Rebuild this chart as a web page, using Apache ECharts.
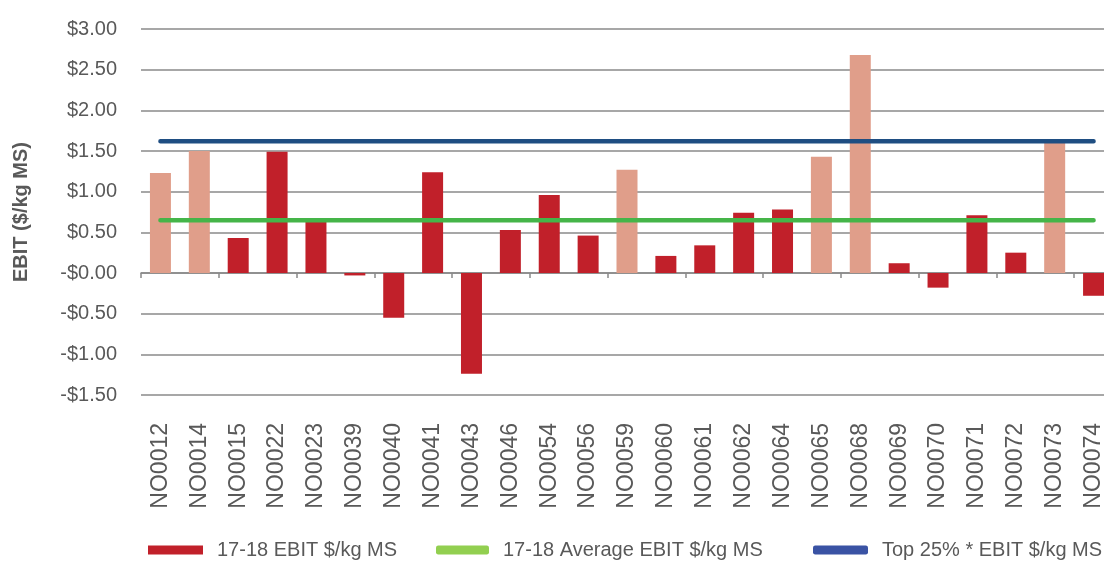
<!DOCTYPE html>
<html>
<head>
<meta charset="utf-8">
<style>
  html, body { margin: 0; padding: 0; background: #fff; }
  #chart { width: 1104px; height: 561px; }
</style>
<script src="https://cdn.jsdelivr.net/npm/echarts@6/dist/echarts.min.js"></script>
</head>
<body>
<div id="chart"></div>
<script>
const farms = ["NO0012", "NO0014", "NO0015", "NO0022", "NO0023", "NO0039", "NO0040", "NO0041", "NO0043", "NO0046",
    "NO0054", "NO0056", "NO0059", "NO0060", "NO0061", "NO0062", "NO0064", "NO0065", "NO0068", "NO0069",
    "NO0070", "NO0071", "NO0072", "NO0073", "NO0074"];
const ebit = [1.23, 1.50, 0.43, 1.49, 0.64, -0.03, -0.55, 1.24, -1.24, 0.53,
    0.96, 0.46, 1.27, 0.21, 0.34, 0.74, 0.78, 1.43, 2.68, 0.12,
    -0.18, 0.71, 0.25, 1.60, -0.28];
const topFarms = ["NO0012", "NO0014", "NO0059", "NO0065", "NO0068", "NO0073"];
const averageEbit = [0.65, 0.65, 0.65, 0.65, 0.65, 0.65, 0.65, 0.65, 0.65, 0.65,
    0.65, 0.65, 0.65, 0.65, 0.65, 0.65, 0.65, 0.65, 0.65, 0.65,
    0.65, 0.65, 0.65, 0.65, 0.65];
const top25Ebit = [1.62, 1.62, 1.62, 1.62, 1.62, 1.62, 1.62, 1.62, 1.62, 1.62,
    1.62, 1.62, 1.62, 1.62, 1.62, 1.62, 1.62, 1.62, 1.62, 1.62,
    1.62, 1.62, 1.62, 1.62, 1.62];
const seriesNames = ["17-18 EBIT $/kg MS", "17-18 Average EBIT $/kg MS", "Top 25% * EBIT $/kg MS"];

(() => {
    const font = "'Liberation Sans', Arial, sans-serif";
    const textColor = "#595959";
    const darkRed = "#C1202A";
    const lightRed = "#E09E8A";

    const chart = echarts.init(document.getElementById("chart"), null, { renderer: "canvas" });

    const barData = ebit.map((value, i) => ({
        value,
        itemStyle: { color: topFarms.includes(farms[i]) ? lightRed : darkRed }
    }));

    const legendText = {
        color: textColor,
        fontFamily: font,
        fontSize: 20,
        padding: [0, 0, 0, 9]
    };

    const option = {
        animation: false,
        grid: {
            left: 141,
            top: 29,
            width: 972,
            height: 366,
            outerBoundsMode: "none"
        },
        legend: [
            {
                left: 148, top: 540, padding: 0, itemWidth: 55, itemHeight: 9,
                data: [{ name: seriesNames[0], icon: "rect", itemStyle: { color: darkRed } }],
                textStyle: legendText
            },
            {
                left: 436, top: 540, padding: 0, itemWidth: 53, itemHeight: 9,
                data: [{ name: seriesNames[1], icon: "roundRect", itemStyle: { color: "#92CF50" } }],
                textStyle: legendText
            },
            {
                left: 813, top: 540, padding: 0, itemWidth: 55, itemHeight: 9,
                data: [{ name: seriesNames[2], icon: "roundRect", itemStyle: { color: "#3A53A4" } }],
                textStyle: legendText
            }
        ],
        xAxis: [
            {
                type: "category",
                data: farms,
                position: "bottom",
                axisLine: { show: false, onZero: false },
                axisTick: { show: false },
                axisLabel: {
                    rotate: 90,
                    margin: 28,
                    color: textColor,
                    fontFamily: font,
                    fontSize: 23,
                    interval: 0
                }
            },
            {
                type: "category",
                data: farms,
                position: "bottom",
                axisLine: { show: true, onZero: true, lineStyle: { color: "#898989", width: 1.5 } },
                axisTick: { show: true, length: 5, lineStyle: { color: "#898989", width: 1.5 } },
                axisLabel: { show: false }
            }
        ],
        yAxis: {
            type: "value",
            min: -1.5,
            max: 3,
            interval: 0.5,
            name: "EBIT ($/kg MS)",
            nameLocation: "middle",
            nameGap: 110,
            nameTextStyle: {
                color: textColor,
                fontFamily: font,
                fontSize: 20,
                fontWeight: "bold"
            },
            axisLine: { show: false },
            axisTick: { show: false },
            splitLine: { lineStyle: { color: "#8A8A8A", width: 1.5 } },
            axisLabel: {
                margin: 24,
                color: textColor,
                fontFamily: font,
                fontSize: 20,
                formatter: (value) => (value <= 0 ? "-$" : "$") + Math.abs(value).toFixed(2)
            }
        },
        series: [
            {
                name: seriesNames[0],
                type: "bar",
                xAxisIndex: 0,
                barWidth: 21,
                itemStyle: { color: darkRed },
                data: barData
            },
            {
                name: seriesNames[1],
                type: "line",
                xAxisIndex: 0,
                showSymbol: false,
                lineStyle: { color: "#45B549", width: 4.5, cap: "round" },
                itemStyle: { color: "#45B549" },
                data: averageEbit
            },
            {
                name: seriesNames[2],
                type: "line",
                xAxisIndex: 0,
                showSymbol: false,
                lineStyle: { color: "#1F4E82", width: 4.5, cap: "round" },
                itemStyle: { color: "#1F4E82" },
                data: top25Ebit
            }
        ]
    };

    chart.setOption(option);
})();
</script>
</body>
</html>
